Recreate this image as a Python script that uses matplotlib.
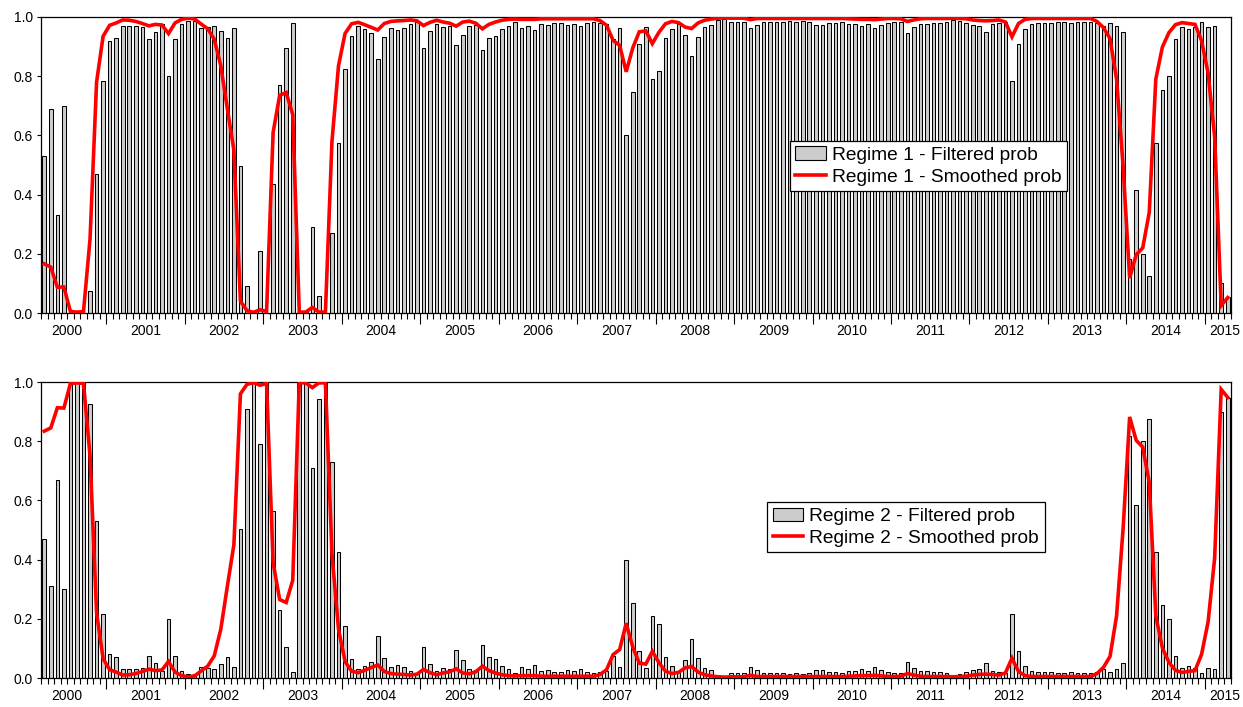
import matplotlib
matplotlib.use("Agg")
import matplotlib.pyplot as plt
from matplotlib.patches import Patch
from matplotlib.lines import Line2D
import numpy as np

plt.rcParams['font.family'] = ['Liberation Sans', 'DejaVu Sans']

# Monthly observations 2000M3 .. 2015M4
start_year, start_month = 2000, 3
years = list(range(2000, 2016))

r1_filtered = [
    0.53, 0.69, 0.33, 0.70, 0.00, 0.00, 0.00, 0.073, 0.47, 0.785,
    0.92, 0.93, 0.97, 0.97, 0.97, 0.965, 0.925, 0.95, 0.975, 0.80,
    0.925, 0.975, 0.985, 0.985, 0.963, 0.966, 0.97, 0.953, 0.93, 0.964,
    0.497, 0.092, 0.0, 0.21, 0.0, 0.436, 0.77, 0.895, 0.98, 0.0,
    0.005, 0.29, 0.056, 0.0, 0.27, 0.576, 0.825, 0.936, 0.968, 0.96,
    0.945, 0.858, 0.933, 0.964, 0.957, 0.964, 0.977, 0.982, 0.894, 0.952,
    0.977, 0.965, 0.969, 0.904, 0.94, 0.97, 0.974, 0.89, 0.93, 0.937,
    0.96, 0.97, 0.982, 0.964, 0.97, 0.957, 0.978, 0.973, 0.98, 0.981,
    0.973, 0.976, 0.971, 0.98, 0.982, 0.981, 0.975, 0.925, 0.962, 0.603,
    0.746, 0.91, 0.967, 0.79, 0.817, 0.93, 0.961, 0.978, 0.94, 0.869,
    0.933, 0.966, 0.973, 0.99, 0.994, 0.984, 0.984, 0.984, 0.964, 0.973,
    0.984, 0.984, 0.984, 0.984, 0.985, 0.983, 0.985, 0.982, 0.973, 0.973,
    0.981, 0.981, 0.982, 0.977, 0.977, 0.97, 0.975, 0.962, 0.973, 0.981,
    0.983, 0.984, 0.946, 0.967, 0.978, 0.978, 0.98, 0.98, 0.983, 0.99,
    0.986, 0.98, 0.973, 0.97, 0.95, 0.976, 0.979, 0.983, 0.784, 0.908,
    0.959, 0.975, 0.98, 0.98, 0.98, 0.982, 0.983, 0.98, 0.984, 0.983,
    0.983, 0.98, 0.968, 0.98, 0.968, 0.95, 0.182, 0.415, 0.2, 0.124,
    0.575, 0.753, 0.8, 0.927, 0.966, 0.958, 0.966, 0.983, 0.966, 0.97,
    0.10, 0.054,
]

r1_smoothed = [
    0.166, 0.155, 0.087, 0.088, 0.005, 0.003, 0.005, 0.25, 0.78, 0.935,
    0.972, 0.98, 0.99, 0.989, 0.985, 0.978, 0.970, 0.975, 0.973, 0.944,
    0.98, 0.992, 0.996, 0.993, 0.976, 0.96, 0.925, 0.835, 0.69, 0.55,
    0.04, 0.008, 0.002, 0.011, 0.005, 0.61, 0.735, 0.745, 0.67, 0.003,
    0.003, 0.019, 0.003, 0.003, 0.58, 0.835, 0.944, 0.977, 0.982, 0.974,
    0.965, 0.956, 0.978, 0.985, 0.987, 0.988, 0.99, 0.987, 0.971, 0.982,
    0.989, 0.983, 0.979, 0.969, 0.983, 0.986, 0.979, 0.96, 0.975, 0.983,
    0.989, 0.992, 0.993, 0.992, 0.992, 0.992, 0.994, 0.994, 0.994, 0.994,
    0.994, 0.994, 0.994, 0.994, 0.994, 0.988, 0.972, 0.921, 0.904, 0.815,
    0.895, 0.95, 0.953, 0.91, 0.948, 0.977, 0.985, 0.981, 0.966, 0.961,
    0.98, 0.989, 0.993, 0.996, 0.997, 0.996, 0.996, 0.996, 0.991, 0.995,
    0.995, 0.995, 0.995, 0.995, 0.995, 0.995, 0.995, 0.995, 0.995, 0.995,
    0.995, 0.995, 0.995, 0.994, 0.993, 0.992, 0.992, 0.991, 0.993, 0.995,
    0.995, 0.994, 0.985, 0.99, 0.994, 0.995, 0.995, 0.995, 0.995, 0.996,
    0.995, 0.994, 0.99, 0.988, 0.987, 0.988, 0.99, 0.983, 0.933, 0.978,
    0.992, 0.995, 0.995, 0.995, 0.995, 0.995, 0.995, 0.995, 0.995, 0.995,
    0.995, 0.985, 0.964, 0.927, 0.79, 0.495, 0.118, 0.197, 0.22, 0.34,
    0.79, 0.898, 0.947, 0.974, 0.981, 0.978, 0.975, 0.92, 0.81, 0.595,
    0.025, 0.052,
]

r2_filtered = [
    0.47, 0.31, 0.67, 0.30, 1.00, 1.00, 1.00, 0.927, 0.53, 0.215,
    0.08, 0.07, 0.03, 0.03, 0.03, 0.035, 0.075, 0.05, 0.025, 0.20,
    0.075, 0.025, 0.015, 0.015, 0.037, 0.034, 0.03, 0.047, 0.07, 0.036,
    0.503, 0.908, 1.0, 0.79, 1.0, 0.564, 0.23, 0.105, 0.02, 1.0,
    0.995, 0.71, 0.944, 1.0, 0.73, 0.424, 0.175, 0.064, 0.032, 0.04,
    0.055, 0.142, 0.067, 0.036, 0.043, 0.036, 0.023, 0.018, 0.106, 0.048,
    0.023, 0.035, 0.031, 0.096, 0.06, 0.03, 0.026, 0.11, 0.07, 0.063,
    0.04, 0.03, 0.018, 0.036, 0.03, 0.043, 0.022, 0.027, 0.02, 0.019,
    0.027, 0.024, 0.029, 0.02, 0.018, 0.019, 0.025, 0.075, 0.038, 0.397,
    0.254, 0.09, 0.033, 0.21, 0.183, 0.07, 0.039, 0.022, 0.06, 0.131,
    0.067, 0.034, 0.027, 0.01, 0.006, 0.016, 0.016, 0.016, 0.036, 0.027,
    0.016, 0.016, 0.016, 0.016, 0.015, 0.017, 0.015, 0.018, 0.027, 0.027,
    0.019, 0.019, 0.018, 0.023, 0.023, 0.03, 0.025, 0.038, 0.027, 0.019,
    0.017, 0.016, 0.054, 0.033, 0.022, 0.022, 0.02, 0.02, 0.017, 0.01,
    0.014, 0.02, 0.027, 0.03, 0.05, 0.024, 0.021, 0.017, 0.216, 0.092,
    0.041, 0.025, 0.02, 0.02, 0.02, 0.018, 0.017, 0.02, 0.016, 0.017,
    0.017, 0.02, 0.032, 0.02, 0.032, 0.05, 0.818, 0.585, 0.80, 0.876,
    0.425, 0.247, 0.20, 0.073, 0.034, 0.042, 0.034, 0.017, 0.034, 0.03,
    0.90, 0.946,
]

r2_smoothed = [
    0.834, 0.845, 0.913, 0.912, 0.995, 0.997, 0.995, 0.75, 0.22, 0.065,
    0.028, 0.02, 0.01, 0.011, 0.015, 0.022, 0.03, 0.025, 0.027, 0.056,
    0.02, 0.008, 0.004, 0.007, 0.024, 0.04, 0.075, 0.165, 0.31, 0.45,
    0.96, 0.992, 0.998, 0.989, 0.995, 0.39, 0.265, 0.255, 0.33, 0.997,
    0.997, 0.981, 0.997, 0.997, 0.42, 0.165, 0.056, 0.023, 0.018, 0.026,
    0.035, 0.044, 0.022, 0.015, 0.013, 0.012, 0.01, 0.013, 0.029, 0.018,
    0.011, 0.017, 0.021, 0.031, 0.017, 0.014, 0.021, 0.04, 0.025, 0.017,
    0.011, 0.008, 0.007, 0.008, 0.008, 0.008, 0.006, 0.006, 0.006, 0.006,
    0.006, 0.006, 0.006, 0.006, 0.006, 0.012, 0.028, 0.079, 0.096, 0.185,
    0.105, 0.05, 0.047, 0.09, 0.052, 0.023, 0.015, 0.019, 0.034, 0.039,
    0.02, 0.011, 0.007, 0.004, 0.003, 0.004, 0.004, 0.004, 0.009, 0.005,
    0.005, 0.005, 0.005, 0.005, 0.005, 0.005, 0.005, 0.005, 0.005, 0.005,
    0.005, 0.005, 0.005, 0.006, 0.007, 0.008, 0.008, 0.009, 0.007, 0.005,
    0.005, 0.006, 0.015, 0.01, 0.006, 0.005, 0.005, 0.005, 0.005, 0.004,
    0.005, 0.006, 0.01, 0.012, 0.013, 0.012, 0.01, 0.017, 0.067, 0.022,
    0.008, 0.005, 0.005, 0.005, 0.005, 0.005, 0.005, 0.005, 0.005, 0.005,
    0.005, 0.015, 0.036, 0.073, 0.21, 0.505, 0.882, 0.803, 0.78, 0.66,
    0.21, 0.102, 0.053, 0.026, 0.019, 0.022, 0.025, 0.08, 0.19, 0.405,
    0.975, 0.948,
]

n = len(r1_filtered)
x = np.arange(n)
# index of January of each year relative to first observation
jan_idx = [(y - start_year) * 12 - (start_month - 1) for y in years]

W, H = 1243, 707
fig = plt.figure(figsize=(W / 100, H / 100), dpi=100)
ax_l, ax_r = 41 / W, 1231 / W
axes_specs = [(17, 313), (382, 678)]

panels = [
    (r1_filtered, r1_smoothed, "Regime 1 - Filtered prob", "Regime 1 - Smoothed prob", (0.629, 0.582)),
    (r2_filtered, r2_smoothed, "Regime 2 - Filtered prob", "Regime 2 - Smoothed prob", (0.610, 0.595)),
]

bar_color = '#cccccc'
for (top, bot), (filt, smooth, lab1, lab2, legpos) in zip(axes_specs, panels):
    ax = fig.add_axes([ax_l, 1 - bot / H, ax_r - ax_l, (bot - top) / H])
    ax.bar(x, filt, width=0.55, color=bar_color, edgecolor='black', linewidth=0.75, zorder=2)
    ax.plot(x, smooth, color='#ff0000', lw=2.6, zorder=3, solid_joinstyle='miter')
    ax.set_xlim(-0.5, n - 0.5)
    ax.set_ylim(0, 1)
    ax.set_yticks([0.0, 0.2, 0.4, 0.6, 0.8, 1.0])
    ax.set_yticklabels(['0.0', '0.2', '0.4', '0.6', '0.8', '1.0'], fontsize=10)
    major = [j - 0.5 for j in jan_idx if -0.5 < j - 0.5 < n - 0.5]
    ax.set_xticks(major)
    ax.set_xticklabels([])
    ax.set_xticks([i - 0.5 for i in range(n + 1)], minor=True)
    ax.tick_params(axis='x', which='major', length=8, width=0.8, direction='out')
    ax.tick_params(axis='x', which='minor', length=4, width=0.8, direction='out')
    ax.tick_params(axis='y', length=3, width=0.8, direction='out', pad=3)
    for s in ax.spines.values():
        s.set_linewidth(0.9)
    for y, j in zip(years, jan_idx):
        if y == 2015:
            pos = n - 1.5
        else:
            pos = j + 5.5
        ax.text(pos, -0.038, str(y), transform=ax.get_xaxis_transform(),
                ha='center', va='top', fontsize=10)
    handles = [Patch(facecolor=bar_color, edgecolor='black', linewidth=0.8),
               Line2D([0], [0], color='#ff0000', lw=2.6)]
    leg = ax.legend(handles, [lab1, lab2], loc='upper left', bbox_to_anchor=legpos,
                    fontsize=13.8, frameon=True, fancybox=False, framealpha=1,
                    edgecolor='black', borderpad=0.3, labelspacing=0.22,
                    handlelength=1.6, handletextpad=0.3, borderaxespad=0)
    leg.get_frame().set_linewidth(0.9)
    leg.set_zorder(5)

fig.savefig('out.png', dpi=100)
